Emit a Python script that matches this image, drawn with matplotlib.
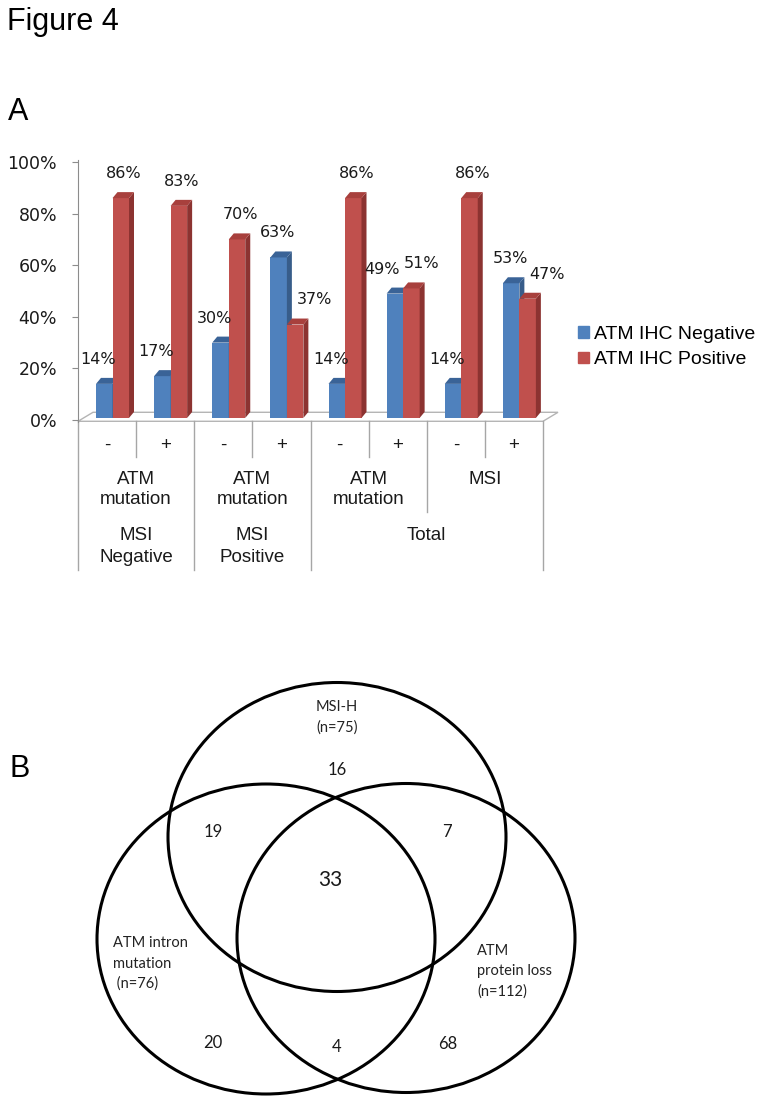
import matplotlib
matplotlib.use("Agg")
import matplotlib.pyplot as plt
from matplotlib.patches import Polygon, Ellipse, Patch

# ---- data: panel A ----
sub_labels = ["-", "+", "-", "+", "-", "+", "-", "+"]
mid_labels = ["ATM\nmutation", "ATM\nmutation", "ATM\nmutation", "MSI"]
top_labels = ["MSI\nNegative", "MSI\nPositive", "Total"]
top_span = [2, 2, 4]
ihc_neg = [14, 17, 30, 63, 14, 49, 14, 53]
ihc_pos = [86, 83, 70, 37, 86, 51, 86, 47]
series_names = ["ATM IHC Negative", "ATM IHC Positive"]

# ---- data: panel B ----
venn_counts = {"16": (337, 770), "19": (213, 832), "7": (447, 832), "33": (330, 880),
               "20": (213, 1043), "4": (337, 1047), "68": (448, 1044)}
set_labels = ["MSI-H\n(n=75)", "ATM intron\nmutation\n (n=76)", "ATM\nprotein loss\n(n=112)"]

W, H = 768, 1103
fig = plt.figure(figsize=(W / 100, H / 100), dpi=100)

def fx(x):
    return x / W

def fy(y):
    return 1 - y / H

arial = "Liberation Sans"
txt = "#1a1a1a"

fig.text(fx(7), fy(30), "Figure 4", fontsize=22, family=arial, va="baseline", color="black")
fig.text(fx(8), fy(120), "A", fontsize=22, family=arial, va="baseline", color="black")
fig.text(fx(10), fy(777), "B", fontsize=22, family=arial, va="baseline", color="black")

# ---- panel A: 3D-looking clustered bars ----
y0px, y100px = 420, 162
ax = fig.add_axes([fx(78), fy(y0px), fx(543 - 78), (y0px - y100px) / H])
ax.set_xlim(0, 8)
ax.set_ylim(0, 100)
for s in ["top", "right", "bottom"]:
    ax.spines[s].set_visible(False)
ax.spines["left"].set_color("#8c8c8c")
ax.spines["left"].set_bounds(-0.8, 100.8)
ax.set_xticks([])
ax.set_yticks(range(0, 101, 20))
ax.set_yticklabels([f"{v}%" for v in range(0, 101, 20)], fontsize=12.5,
                   family="DejaVu Sans", color=txt)
ax.tick_params(axis="y", length=4.5, color="#8c8c8c", pad=10.5)

px_x = (543 - 78) / 8.0          # pixels per category
px_y = (y0px - y100px) / 100.0   # pixels per percent
dx, dy = 5 / px_x, 6 / px_y
bw = 16.5 / px_x
start = 18 / px_x
base = 0.8

# floor
fdx, fdy = 15 / px_x, 9 / px_y
ax.add_patch(Polygon([(0, -0.5), (8, -0.5), (8 + fdx, -0.5 + fdy), (fdx, -0.5 + fdy)],
                     closed=True, fc="white", ec="#b4b4b4", lw=1, clip_on=False, zorder=1))

face = {"neg": ("#4f81bd", "#3a6397", "#385d8a"), "pos": ("#c0504d", "#a8403d", "#8c3331")}

def bar3d(xs, vals, cols):
    front, top, side = cols
    bars = ax.bar(xs, [v - base for v in vals], width=bw, bottom=base, align="edge",
                  color=front, lw=0, zorder=3)
    for b, v in zip(bars, vals):
        x0 = b.get_x()
        x1 = x0 + b.get_width()
        ax.add_patch(Polygon([(x1, base), (x1, v), (x1 + dx, v + dy), (x1 + dx, base + dy)],
                             closed=True, fc=side, lw=0, zorder=3, clip_on=False))
        ax.add_patch(Polygon([(x0, v), (x1, v), (x1 + dx, v + dy), (x0 + dx, v + dy)],
                             closed=True, fc=top, lw=0, zorder=3, clip_on=False))
    return bars

cats = list(range(len(ihc_neg)))
bneg = bar3d([i + start for i in cats], ihc_neg, face["neg"])
bpos = bar3d([i + start + bw for i in cats], ihc_pos, face["pos"])

# value labels (nudged apart like the spreadsheet did)
for bn, bp, vn, vp in zip(bneg, bpos, ihc_neg, ihc_pos):
    if abs(vn - vp) < 5:
        on, op = -13, 10
    elif vn > vp:
        on, op = -1, 19
    else:
        on, op = -6, 3
    cn = bn.get_x() + bn.get_width() / 2 + on / px_x
    cp = bp.get_x() + bp.get_width() / 2 + op / px_x
    ax.text(cn, vn + dy + 7.2, f"{vn}%", ha="center", va="center", fontsize=11.5,
            family="DejaVu Sans", color=txt, clip_on=False)
    ax.text(cp, vp + dy + 7.2, f"{vp}%", ha="center", va="center", fontsize=11.5,
            family="DejaVu Sans", color=txt, clip_on=False)

# category table under the chart
xt = ax.get_xaxis_transform()

def yf(ypx):
    return (y0px - ypx) / (y0px - y100px)

grid_c = "#a6a6a6"
ends = {0: 570, 2: 570, 4: 570, 8: 570, 6: 512}
for i in range(9):
    ax.plot([i, i], [yf(421), yf(ends.get(i, 457))], transform=xt, color=grid_c,
            lw=1, clip_on=False)

for i, lab in enumerate(sub_labels):
    ax.text(i + 0.5, yf(445), lab, transform=xt, ha="center", va="center",
            fontsize=13.5, family=arial, color=txt)

for j, lab in enumerate(mid_labels):
    for k, line in enumerate(lab.split("\n")):
        ax.text(2 * j + 1, yf(479 + 21 * k), line, transform=xt, ha="center",
                va="center", fontsize=13.5, family=arial, color=txt)

pos = 0
for lab, span in zip(top_labels, top_span):
    for k, line in enumerate(lab.split("\n")):
        ax.text(pos + span / 2, yf(535 + 22 * k), line, transform=xt, ha="center",
                va="center", fontsize=13.5, family=arial, color=txt)
    pos += span

handles = [Patch(color=face["neg"][0]), Patch(color=face["pos"][0])]
fig.legend(handles, series_names, loc="center left", bbox_to_anchor=(fx(578), fy(347)),
           frameon=False, prop={"family": arial, "size": 14}, handlelength=0.55,
           handleheight=0.55, handletextpad=0.25, labelspacing=0.45, borderpad=0,
           borderaxespad=0)

# ---- panel B: Venn diagram ----
vx = fig.add_axes([0, 0, 1, 1])
vx.set_xlim(0, W)
vx.set_ylim(H, 0)
vx.axis("off")
vx.patch.set_alpha(0)

ell = [((337, 837), 338, 309), ((266, 939), 338, 310), ((406, 938), 338, 309)]
for c, w, h in ell:
    vx.add_patch(Ellipse(c, w, h, fill=False, ec="black", lw=2.2))

venn_font = "Lato"
for k, (x, y) in venn_counts.items():
    vx.text(x, y, k, ha="center", va="center", fontsize=15 if k == "33" else 12,
            family=venn_font, color=txt)

label_pos = [(337, 707, "center"), (113, 943, "left"), (477, 951, "left")]
for lab, (x, y, ha) in zip(set_labels, label_pos):
    for k, line in enumerate(lab.split("\n")):
        vx.text(x, y + 20.5 * k, line, ha=ha, va="center", fontsize=10.5,
                family=venn_font, color="#222222")

fig.savefig("out.png", dpi=100)
